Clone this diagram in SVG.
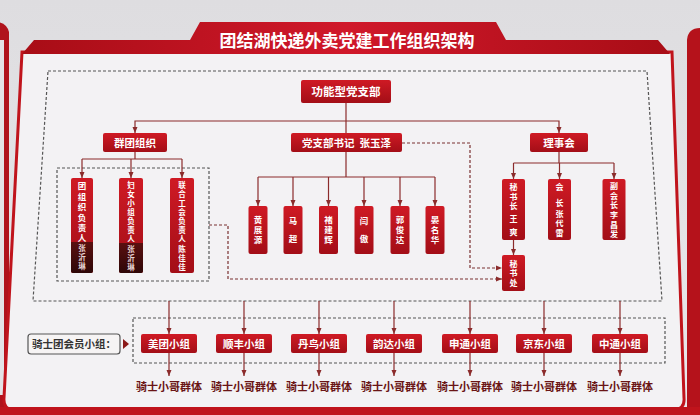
<svg xmlns="http://www.w3.org/2000/svg" width="700" height="415" viewBox="0 0 700 415">
<defs>
<linearGradient id="wall" x1="0" y1="0" x2="0" y2="1"><stop offset="0" stop-color="#dedde0"/><stop offset="1" stop-color="#e9e8eb"/></linearGradient>
<linearGradient id="rg" x1="0" y1="0" x2="0" y2="1"><stop offset="0" stop-color="#cf1a24"/><stop offset="1" stop-color="#a30e17"/></linearGradient>
<linearGradient id="dk" x1="0" y1="0" x2="0" y2="1"><stop offset="0" stop-color="#5a1010"/><stop offset="1" stop-color="#2e0707"/></linearGradient>
<linearGradient id="ban" x1="0" y1="0" x2="1" y2="0"><stop offset="0" stop-color="#a80d16"/><stop offset="0.5" stop-color="#d0182a"/><stop offset="1" stop-color="#a80d16"/></linearGradient>
<marker id="ar" viewBox="0 0 6 6" refX="6" refY="3" markerWidth="6" markerHeight="6" markerUnits="userSpaceOnUse" orient="auto"><path d="M0,0.5 L6,3 L0,5.5 z" fill="#8b2b2b"/></marker>
</defs>
<style>
.box{fill:url(#rg)}
.t{font-family:"Noto Sans CJK SC","Noto Sans",sans-serif;font-weight:bold;fill:#fff;text-anchor:middle}
.v{font-size:8.5px}
.s{font-size:8px}
.xs{font-size:7.5px}
.nm{fill:#e6d2d2}
.ln{stroke:#8b2b2b;stroke-width:1.2;fill:none}
.dash{stroke:#555;stroke-width:1.2;stroke-dasharray:3 2;fill:none}
.ddash{stroke:#7a3030;stroke-width:1.2;stroke-dasharray:3 2;fill:none}
.bt{font-family:"Noto Sans CJK SC","Noto Sans",sans-serif;font-weight:bold;font-size:11px;fill:#6a1515;text-anchor:middle}
</style>
<rect x="0" y="0" width="700" height="415" fill="url(#wall)"/>
<!-- adjacent boards -->
<path d="M-10,22 Q6,20 9,32 L9,415 L-10,415 Z" fill="#b0131c"/>
<path d="M-10,40 L4,40 L4,395 L-10,395 Z" fill="#e4e3e6"/>
<path d="M700,28 Q688,28 687,40 L687,415 L700,415 Z" fill="#b5121b"/>
<!-- board -->
<path d="M22,52 L672,52 L684,398 Q685,410 672,410 L15,410 Q3,410 4,398 Z" fill="#f3f2f4" stroke="#c0141c" stroke-width="3"/>
<rect x="0" y="407" width="700" height="8" fill="#c0141c"/>
<!-- title banner -->
<path d="M22,54 L34,40 L190,40 L200,22 L496,22 L506,40 L658,40 L670,54 Z" fill="url(#ban)"/>
<text class="t" x="347" y="47" font-size="17">团结湖快递外卖党建工作组织架构</text>

<!-- dashed groups -->
<g id="groups">
<path class="dash" d="M48,71 L647,71 L662,301 L33,301 Z"/>
<rect class="dash" x="57" y="168" width="152" height="113"/>
<rect class="dash" x="133" y="318" width="532" height="45"/>
</g>

<!-- connectors -->
<g id="connectors">
<path class="ln" d="M346,103 V133"/>
<path class="ln" d="M346,121 H135 V133" marker-end="url(#ar)"/>
<path class="ln" d="M346,121 H559 V133" marker-end="url(#ar)"/>
<path class="ln" d="M135,152 V159 M82,159 H182"/>
<path class="ln" d="M82,159 V178" marker-end="url(#ar)"/>
<path class="ln" d="M131,159 V178" marker-end="url(#ar)"/>
<path class="ln" d="M182,159 V178" marker-end="url(#ar)"/>
<path class="ln" d="M346,152 V177 M258,177 H435"/>
<path class="ln" d="M258,177 V206" marker-end="url(#ar)"/>
<path class="ln" d="M293,177 V206" marker-end="url(#ar)"/>
<path class="ln" d="M328.5,177 V206" marker-end="url(#ar)"/>
<path class="ln" d="M364,177 V206" marker-end="url(#ar)"/>
<path class="ln" d="M400,177 V206" marker-end="url(#ar)"/>
<path class="ln" d="M435,177 V206" marker-end="url(#ar)"/>
<path class="ln" d="M559,152 V163 M513.5,163 H614"/>
<path class="ln" d="M513.5,163 V179" marker-end="url(#ar)"/>
<path class="ln" d="M559.5,163 V179" marker-end="url(#ar)"/>
<path class="ln" d="M614,163 V179" marker-end="url(#ar)"/>
<path class="ln" d="M513.5,240 V255" marker-end="url(#ar)"/>
<path class="ddash" d="M402,143 H470 V268 H502" marker-end="url(#ar)"/>
<path class="ddash" d="M209,225 H228 V279 H502" marker-end="url(#ar)"/>
<path class="ln" d="M169,301 V334" marker-end="url(#ar)"/>
<path class="ln" d="M244,301 V334" marker-end="url(#ar)"/>
<path class="ln" d="M319,301 V334" marker-end="url(#ar)"/>
<path class="ln" d="M394,301 V334" marker-end="url(#ar)"/>
<path class="ln" d="M470,301 V334" marker-end="url(#ar)"/>
<path class="ln" d="M544,301 V334" marker-end="url(#ar)"/>
<path class="ln" d="M620,301 V334" marker-end="url(#ar)"/>
<path class="ln" d="M169,353 V376" marker-end="url(#ar)"/>
<path class="ln" d="M244,353 V376" marker-end="url(#ar)"/>
<path class="ln" d="M319,353 V376" marker-end="url(#ar)"/>
<path class="ln" d="M394,353 V376" marker-end="url(#ar)"/>
<path class="ln" d="M470,353 V376" marker-end="url(#ar)"/>
<path class="ln" d="M544,353 V376" marker-end="url(#ar)"/>
<path class="ln" d="M620,353 V376" marker-end="url(#ar)"/>
<path d="M123,339 L129,344 L123,349 Z" fill="#8b1a1a"/>
</g>

<!-- top nodes -->
<g id="n-gongneng"><rect class="box" x="301" y="80" width="90" height="23" rx="2"/><text class="t" x="346" y="96" font-size="11.5">功能型党支部</text></g>
<g id="n-quntuan"><rect class="box" x="103" y="133" width="64" height="19" rx="2"/><text class="t" x="135" y="146.5" font-size="10.5">群团组织</text></g>
<g id="n-shuji"><rect class="box" x="291" y="133" width="111" height="19" rx="2"/><text class="t" x="346.5" y="146.5" font-size="10.5" xml:space="preserve">党支部书记  张玉泽</text></g>
<g id="n-lishihui"><rect class="box" x="530" y="133" width="58" height="19" rx="2"/><text class="t" x="559" y="146.5" font-size="10.5">理事会</text></g>

<!-- 群团 children -->
<g id="n-tuanzuzhi"><rect class="box" x="71" y="178" width="22" height="95" rx="2"/><path d="M71,242 H93 V271 Q93,273 91,273 H73 Q71,273 71,271 Z" fill="url(#dk)"/>
<text class="t" font-size="8.5"><tspan x="82" y="189">团</tspan><tspan x="82" y="199.5">组</tspan><tspan x="82" y="210">织</tspan><tspan x="82" y="220.5">负</tspan><tspan x="82" y="231">责</tspan><tspan x="82" y="241">人</tspan></text>
<text class="t nm xs"><tspan x="82" y="251">张</tspan><tspan x="82" y="260">沂</tspan><tspan x="82" y="269">琳</tspan></text></g>
<g id="n-funv"><rect class="box" x="119" y="178" width="24" height="95" rx="2"/><path d="M119,243 H143 V271 Q143,273 141,273 H121 Q119,273 119,271 Z" fill="url(#dk)"/>
<text class="t xs"><tspan x="131" y="188">妇</tspan><tspan x="131" y="197">女</tspan><tspan x="131" y="206">小</tspan><tspan x="131" y="215">组</tspan><tspan x="131" y="224">负</tspan><tspan x="131" y="233">责</tspan><tspan x="131" y="242">人</tspan></text>
<text class="t nm xs"><tspan x="131" y="252">张</tspan><tspan x="131" y="261">沂</tspan><tspan x="131" y="270">琳</tspan></text></g>
<g id="n-gonghui"><rect class="box" x="170" y="178" width="24" height="95" rx="2"/>
<text class="t xs"><tspan x="182" y="188">联</tspan><tspan x="182" y="197">合</tspan><tspan x="182" y="206">工</tspan><tspan x="182" y="215">会</tspan><tspan x="182" y="224">负</tspan><tspan x="182" y="233">责</tspan><tspan x="182" y="242">人</tspan><tspan x="182" y="252">陈</tspan><tspan x="182" y="261">佳</tspan><tspan x="182" y="270">佳</tspan></text></g>

<!-- 党支部 members -->
<g id="n-huang"><rect class="box" x="248.5" y="206" width="19" height="48" rx="2"/><text class="t v"><tspan x="258" y="223">黄</tspan><tspan x="258" y="233">展</tspan><tspan x="258" y="243">源</tspan></text></g>
<g id="n-ma"><rect class="box" x="283.5" y="206" width="19" height="48" rx="2"/><text class="t v"><tspan x="293" y="224">马</tspan><tspan x="293" y="242">超</tspan></text></g>
<g id="n-chu"><rect class="box" x="319" y="206" width="19" height="48" rx="2"/><text class="t v"><tspan x="328.5" y="223">褚</tspan><tspan x="328.5" y="233">建</tspan><tspan x="328.5" y="243">辉</tspan></text></g>
<g id="n-yan"><rect class="box" x="354.5" y="206" width="19" height="48" rx="2"/><text class="t v"><tspan x="364" y="224">闫</tspan><tspan x="364" y="242">傲</tspan></text></g>
<g id="n-guo"><rect class="box" x="390.5" y="206" width="19" height="48" rx="2"/><text class="t v"><tspan x="400" y="223">郭</tspan><tspan x="400" y="233">俊</tspan><tspan x="400" y="243">达</tspan></text></g>
<g id="n-yanmh"><rect class="box" x="425.5" y="206" width="19" height="48" rx="2"/><text class="t v"><tspan x="435" y="223">晏</tspan><tspan x="435" y="233">名</tspan><tspan x="435" y="243">华</tspan></text></g>

<!-- 理事会 children -->
<g id="n-mishuzhang"><rect class="box" x="502" y="179" width="23" height="61" rx="2"/><text class="t s"><tspan x="513.5" y="190">秘</tspan><tspan x="513.5" y="199.5">书</tspan><tspan x="513.5" y="209">长</tspan><tspan x="513.5" y="222">王</tspan><tspan x="513.5" y="235">爽</tspan></text></g>
<g id="n-huizhang"><rect class="box" x="548" y="179" width="23" height="61" rx="2"/><text class="t s"><tspan x="559.5" y="190">会</tspan><tspan x="559.5" y="206">长</tspan><tspan x="559.5" y="216.5">张</tspan><tspan x="559.5" y="226">代</tspan><tspan x="559.5" y="235.5">雷</tspan></text></g>
<g id="n-fuhuizhang"><rect class="box" x="602.5" y="179" width="23" height="61" rx="2"/><text class="t s"><tspan x="614" y="189">副</tspan><tspan x="614" y="198.5">会</tspan><tspan x="614" y="208">长</tspan><tspan x="614" y="218">李</tspan><tspan x="614" y="227.5">昌</tspan><tspan x="614" y="237">发</tspan></text></g>
<g id="n-mishuchu"><rect class="box" x="502" y="255" width="23" height="36" rx="2"/><text class="t s"><tspan x="513.5" y="266.5">秘</tspan><tspan x="513.5" y="276">书</tspan><tspan x="513.5" y="285.5">处</tspan></text></g>

<!-- bottom row -->
<g id="n-qishi"><rect x="28" y="334" width="92" height="20" rx="3" fill="#f6f4f4" stroke="#555" stroke-width="1.2"/><text class="t" x="74" y="348" font-size="10.5" style="fill:#333">骑士团会员小组：</text></g>
<g id="n-meituan"><rect class="box" x="141" y="334" width="56" height="19" rx="2"/><text class="t" x="169" y="347.5" font-size="10.5">美团小组</text><text class="bt" x="169" y="391">骑士小哥群体</text></g>
<g id="n-shunfeng"><rect class="box" x="216" y="334" width="56" height="19" rx="2"/><text class="t" x="244" y="347.5" font-size="10.5">顺丰小组</text><text class="bt" x="244" y="391">骑士小哥群体</text></g>
<g id="n-danniao"><rect class="box" x="291" y="334" width="56" height="19" rx="2"/><text class="t" x="319" y="347.5" font-size="10.5">丹鸟小组</text><text class="bt" x="319" y="391">骑士小哥群体</text></g>
<g id="n-yunda"><rect class="box" x="366" y="334" width="56" height="19" rx="2"/><text class="t" x="394" y="347.5" font-size="10.5">韵达小组</text><text class="bt" x="394" y="391">骑士小哥群体</text></g>
<g id="n-shentong"><rect class="box" x="442" y="334" width="56" height="19" rx="2"/><text class="t" x="470" y="347.5" font-size="10.5">申通小组</text><text class="bt" x="470" y="391">骑士小哥群体</text></g>
<g id="n-jingdong"><rect class="box" x="516" y="334" width="56" height="19" rx="2"/><text class="t" x="544" y="347.5" font-size="10.5">京东小组</text><text class="bt" x="544" y="391">骑士小哥群体</text></g>
<g id="n-zhongtong"><rect class="box" x="592" y="334" width="56" height="19" rx="2"/><text class="t" x="620" y="347.5" font-size="10.5">中通小组</text><text class="bt" x="620" y="391">骑士小哥群体</text></g>
</svg>
